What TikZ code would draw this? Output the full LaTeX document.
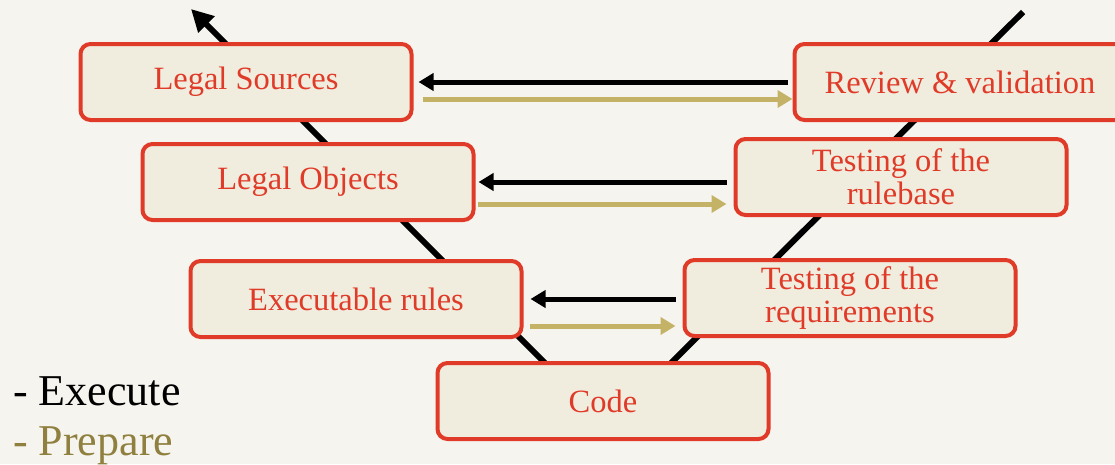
\documentclass[tikz,border=0pt]{standalone}
\usepackage{fontspec}
\setmainfont{Liberation Serif}
\usetikzlibrary{arrows.meta}
\definecolor{bg}{HTML}{F6F4EE}
\definecolor{boxfill}{HTML}{F1EDDE}
\definecolor{boxred}{HTML}{E03A28}
\definecolor{gold}{HTML}{C4B266}
\definecolor{olive}{HTML}{8F8040}
\tikzset{
  vbox/.style={draw=boxred, line width=4pt, fill=boxfill, rounded corners=10pt,
    minimum width=331pt, minimum height=76pt, inner sep=0pt, text=boxred,
    align=center, font=\fontsize{32.5}{33}\selectfont},
  blk/.style={draw=black, line width=5pt, -{Triangle[length=15pt,width=17pt]}},
  gld/.style={draw=gold, line width=5pt, -{Triangle[length=15pt,width=17pt]}},
  vline/.style={draw=black, line width=6pt},
  legend/.style={anchor=base west, inner sep=0pt, font=\fontsize{44}{46}\selectfont}
}
\begin{document}
\begin{tikzpicture}[x=1pt,y=-1pt]
\useasboundingbox[fill=bg] (0,0) rectangle (1115,464);
% V shape
\coordinate (v) at (608,426);
\coordinate (vl) at (191,9);
\coordinate (vr) at (1023,12);
\draw[vline, -{Triangle[length=22pt,width=22pt]}] (v) -- (vl);
\draw[vline] (v) -- (vr);
% boxes
\node[vbox] (sources) at (246,82) {Legal Sources};
\node[vbox] (objects) at (308,182) {Legal Objects};
\node[vbox] (exec) at (356,299) {Executable rules};
\node[vbox] (code) at (603,401) {Code};
\node[vbox] (req) at (850,298) {Testing of the\\requirements};
\node[vbox] (rulebase) at (901,177) {Testing of the\\rulebase};
\node[vbox] (review) at (960,82) {Review \& validation};
% horizontal arrows
\draw[blk] ([xshift=-5pt]review.west) -- ([xshift=5pt]sources.east);
\draw[gld] ([xshift=9pt,yshift=-17pt]sources.east) -- ([yshift=-17pt]review.west);
\coordinate (r2) at (rulebase.west |- objects.east);
\draw[blk] ([xshift=-7pt]r2) -- ([xshift=3pt]objects.east);
\draw[gld] ([xshift=2pt,yshift=-22pt]objects.east) -- ([xshift=-7pt,yshift=-22pt]r2);
\coordinate (r3) at (req.west |- exec.east);
\draw[blk] ([xshift=-7pt]r3) -- ([xshift=7pt]exec.east);
\draw[gld] ([xshift=6pt,yshift=-27pt]exec.east) -- ([xshift=-7pt,yshift=-27pt]r3);
% legend
\node[legend, text=black] (lexec) at (13,405) {- Execute};
\node[legend, text=olive] (lprep) at (13,455) {- Prepare};
\end{tikzpicture}
\end{document}
